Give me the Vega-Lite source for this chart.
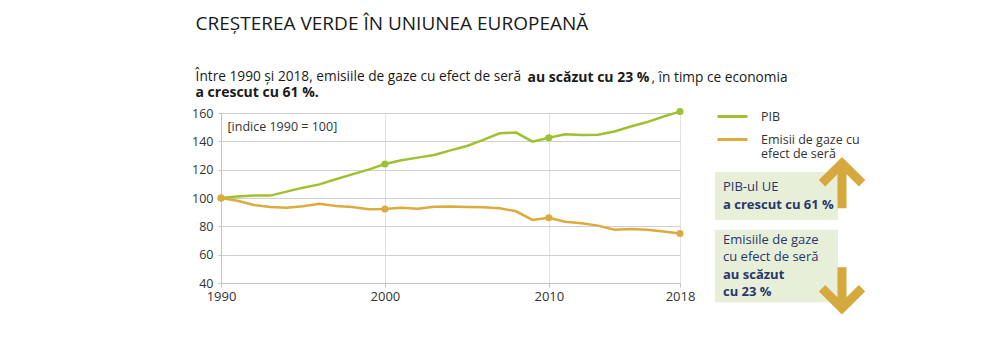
{
  "$schema": "https://vega.github.io/schema/vega-lite/v6.json",
  "background": "white",
  "padding": {"left": 191, "top": 14, "right": 5, "bottom": 5},
  "bounds": "flush",
  "spacing": 35,
  "title": {
    "text": "CREȘTEREA VERDE ÎN UNIUNEA EUROPEANĂ",
    "subtitle": "Între 1990 și 2018, emisiile de gaze cu efect de seră",
    "anchor": "start",
    "frame": "bounds",
    "dx": 4,
    "font": "Open Sans",
    "fontSize": 19,
    "fontWeight": "normal",
    "color": "#1a1a1a",
    "subtitleFont": "Open Sans",
    "subtitleFontSize": 13.7,
    "subtitleColor": "#1a1a1a",
    "subtitlePadding": 35.8,
    "offset": -13
  },
  "datasets": {
    "series": [
      {"year": 1990, "series": "PIB", "value": 100},
      {"year": 1991, "series": "PIB", "value": 101},
      {"year": 1992, "series": "PIB", "value": 101.7},
      {"year": 1993, "series": "PIB", "value": 101.7},
      {"year": 1994, "series": "PIB", "value": 104.5},
      {"year": 1995, "series": "PIB", "value": 107.3},
      {"year": 1996, "series": "PIB", "value": 109.6},
      {"year": 1997, "series": "PIB", "value": 113.2},
      {"year": 1998, "series": "PIB", "value": 116.7},
      {"year": 1999, "series": "PIB", "value": 120},
      {"year": 2000, "series": "PIB", "value": 124},
      {"year": 2001, "series": "PIB", "value": 126.6},
      {"year": 2002, "series": "PIB", "value": 128.5},
      {"year": 2003, "series": "PIB", "value": 130.4},
      {"year": 2004, "series": "PIB", "value": 133.6},
      {"year": 2005, "series": "PIB", "value": 136.7},
      {"year": 2006, "series": "PIB", "value": 141},
      {"year": 2007, "series": "PIB", "value": 145.7},
      {"year": 2008, "series": "PIB", "value": 146.2},
      {"year": 2009, "series": "PIB", "value": 139.8},
      {"year": 2010, "series": "PIB", "value": 142.5},
      {"year": 2011, "series": "PIB", "value": 145},
      {"year": 2012, "series": "PIB", "value": 144.5},
      {"year": 2013, "series": "PIB", "value": 144.6},
      {"year": 2014, "series": "PIB", "value": 147},
      {"year": 2015, "series": "PIB", "value": 150.5},
      {"year": 2016, "series": "PIB", "value": 153.6},
      {"year": 2017, "series": "PIB", "value": 157.5},
      {"year": 2018, "series": "PIB", "value": 161},
      {"year": 1990, "series": "Emisii de gaze cu efect de seră", "value": 100},
      {"year": 1991, "series": "Emisii de gaze cu efect de seră", "value": 98},
      {"year": 1992, "series": "Emisii de gaze cu efect de seră", "value": 95},
      {"year": 1993, "series": "Emisii de gaze cu efect de seră", "value": 93.6},
      {"year": 1994, "series": "Emisii de gaze cu efect de seră", "value": 93.2},
      {"year": 1995, "series": "Emisii de gaze cu efect de seră", "value": 94.1},
      {"year": 1996, "series": "Emisii de gaze cu efect de seră", "value": 96},
      {"year": 1997, "series": "Emisii de gaze cu efect de seră", "value": 94.4},
      {"year": 1998, "series": "Emisii de gaze cu efect de seră", "value": 93.6},
      {"year": 1999, "series": "Emisii de gaze cu efect de seră", "value": 92},
      {"year": 2000, "series": "Emisii de gaze cu efect de seră", "value": 92.2},
      {"year": 2001, "series": "Emisii de gaze cu efect de seră", "value": 93.2},
      {"year": 2002, "series": "Emisii de gaze cu efect de seră", "value": 92.5},
      {"year": 2003, "series": "Emisii de gaze cu efect de seră", "value": 93.8},
      {"year": 2004, "series": "Emisii de gaze cu efect de seră", "value": 94},
      {"year": 2005, "series": "Emisii de gaze cu efect de seră", "value": 93.6},
      {"year": 2006, "series": "Emisii de gaze cu efect de seră", "value": 93.4},
      {"year": 2007, "series": "Emisii de gaze cu efect de seră", "value": 92.7},
      {"year": 2008, "series": "Emisii de gaze cu efect de seră", "value": 90.6},
      {"year": 2009, "series": "Emisii de gaze cu efect de seră", "value": 84.5},
      {"year": 2010, "series": "Emisii de gaze cu efect de seră", "value": 86.1},
      {"year": 2011, "series": "Emisii de gaze cu efect de seră", "value": 83.3},
      {"year": 2012, "series": "Emisii de gaze cu efect de seră", "value": 82.1},
      {"year": 2013, "series": "Emisii de gaze cu efect de seră", "value": 80.5},
      {"year": 2014, "series": "Emisii de gaze cu efect de seră", "value": 77.6},
      {"year": 2015, "series": "Emisii de gaze cu efect de seră", "value": 78.1},
      {"year": 2016, "series": "Emisii de gaze cu efect de seră", "value": 77.6},
      {"year": 2017, "series": "Emisii de gaze cu efect de seră", "value": 76.3},
      {"year": 2018, "series": "Emisii de gaze cu efect de seră", "value": 75}
    ],
    "boxes": [
      {"box": "PIB", "line": "PIB-ul UE", "strong": false},
      {"box": "PIB", "line": "a crescut cu 61 %", "strong": true},
      {"box": "GES", "line": "Emisiile de gaze", "strong": false},
      {"box": "GES", "line": "cu efect de seră", "strong": false},
      {"box": "GES", "line": "au scăzut", "strong": true},
      {"box": "GES", "line": "cu 23 %", "strong": true}
    ],
    "arrows": [
      {"trend": "up", "line": "PIB-ul UE"},
      {"trend": "down", "line": "cu 23 %"}
    ]
  },
  "hconcat": [
    {
      "width": 459,
      "height": 170,
      "data": {"name": "series"},
      "layer": [
        {
          "mark": {"type": "line", "strokeWidth": 2.5},
          "encoding": {
            "x": {
              "field": "year", "type": "quantitative",
              "scale": {"domain": [1990, 2018], "nice": false, "zero": false},
              "axis": {
                "orient": "bottom", "values": [1990, 2000, 2010, 2018], "format": "d",
                "labelFlush": false,
                "grid": true, "gridColor": "#e2e2e2", "domainColor": "#c4c4c4",
                "tickColor": "#c4c4c4", "tickSize": 4, "labelFontSize": 13, "labelColor": "#333333",
                "labelPadding": 3,
                "title": "[indice 1990 = 100]", "titleFontWeight": "normal", "titleFontSize": 12.5,
                "titleColor": "#333333", "titleAnchor": "start", "titleAlign": "left",
                "titleBaseline": "middle", "titleX": 6, "titleY": -156.7
              }
            },
            "y": {
              "field": "value", "type": "quantitative",
              "scale": {"domain": [40, 160], "nice": false, "zero": false},
              "axis": {
                "orient": "left", "values": [40, 60, 80, 100, 120, 140, 160],
                "grid": true, "gridColor": "#cfcfcf", "domainColor": "#c4c4c4",
                "tickColor": "#c4c4c4", "tickSize": 3, "labelFontSize": 12.5, "labelColor": "#333333",
                "labelPadding": 5,
                "title": "a crescut cu 61 %.", "titleFontWeight": "bold", "titleFontSize": 14,
                "titleColor": "#1a1a1a", "titleAngle": 0, "titleAlign": "left",
                "titleBaseline": "alphabetic", "titleX": -26, "titleY": -16.5
              }
            },
            "color": {
              "field": "series", "type": "nominal",
              "scale": {"domain": ["PIB", "Emisii de gaze cu efect de seră"], "range": ["#9fc131", "#dcab3c"]},
              "legend": {
                "orient": "none", "legendX": 495, "legendY": -13, "title": null, "padding": 0,
                "symbolType": "stroke", "symbolSize": 900, "symbolStrokeWidth": 3,
                "labelFontSize": 12.5, "labelColor": "#333333", "labelOffset": 12, "rowPadding": 0,
                "labelExpr": "datum.label == 'Emisii de gaze cu efect de seră' ? ['Emisii de gaze cu', 'efect de seră'] : datum.label"
              }
            }
          }
        },
        {
          "transform": [{"filter": {"field": "year", "oneOf": [1990, 2000, 2010, 2018]}}],
          "mark": {"type": "point", "filled": true, "size": 50, "opacity": 1},
          "encoding": {
            "x": {
              "field": "year", "type": "quantitative",
              "axis": {
                "orient": "top", "labels": false, "ticks": false, "domain": false, "grid": false,
                "title": "au scăzut cu 23 %", "titleFontWeight": "bold", "titleFontSize": 14,
                "titleColor": "#1a1a1a", "titleAnchor": "start", "titleAlign": "left",
                "titleBaseline": "alphabetic", "titleX": 306, "titleY": -31.7
              }
            },
            "y": {
              "field": "value", "type": "quantitative",
              "axis": {
                "orient": "right", "labels": false, "ticks": false, "domain": false, "grid": false,
                "title": ", în timp ce economia", "titleFontWeight": "normal", "titleFontSize": 13.7,
                "titleColor": "#1a1a1a", "titleAngle": 0, "titleAlign": "left",
                "titleBaseline": "alphabetic", "titleX": -29, "titleY": -31.7
              }
            },
            "color": {"field": "series", "type": "nominal"}
          }
        }
      ],
      "resolve": {"axis": {"x": "independent", "y": "independent"}}
    },
    {
      "width": 123,
      "height": 188,
      "layer": [
        {
          "data": {"name": "boxes"},
          "transform": [{"filter": "datum.box == 'PIB'"}],
          "mark": {"type": "rect", "fill": "#e8efd9", "height": {"band": 1.75}},
          "encoding": {
            "y": {
              "field": "line", "type": "nominal",
              "scale": {
                "domain": [" ", "  ", "PIB-ul UE", "a crescut cu 61 %", "   ", "Emisiile de gaze", "cu efect de seră", "au scăzut", "cu 23 %"],
                "paddingInner": 0, "paddingOuter": 0.873, "align": 1
              },
              "axis": null
            }
          }
        },
        {
          "data": {"name": "boxes"},
          "transform": [{"filter": "datum.box == 'GES'"}],
          "mark": {"type": "rect", "fill": "#e8efd9", "height": {"band": 1.15}},
          "encoding": {"y": {"field": "line", "type": "nominal"}}
        },
        {
          "data": {"name": "boxes"},
          "transform": [{"filter": "!datum.strong"}],
          "mark": {"type": "text", "align": "left", "dx": -53.5, "fontSize": 13, "color": "#27366b", "font": "Open Sans"},
          "encoding": {"y": {"field": "line", "type": "nominal"}, "text": {"field": "line"}}
        },
        {
          "data": {"name": "boxes"},
          "transform": [{"filter": "datum.strong"}],
          "mark": {"type": "text", "align": "left", "dx": -53.5, "fontSize": 13, "fontWeight": "bold", "color": "#27366b", "font": "Open Sans"},
          "encoding": {"y": {"field": "line", "type": "nominal"}, "text": {"field": "line"}}
        },
        {
          "data": {"name": "arrows"},
          "mark": {"type": "point", "filled": false, "size": 2500, "strokeWidth": 9, "strokeCap": "butt", "strokeJoin": "miter", "color": "#d5a93d", "opacity": 1},
          "encoding": {
            "y": {"field": "line", "type": "nominal"},
            "shape": {
              "field": "trend", "type": "nominal",
              "scale": {
                "domain": ["up", "down"],
                "range": ["M1.82,-0.16L2.62,-0.96L3.42,-0.16M2.62,-0.96L2.62,0.84", "M1.82,-0.16L2.62,0.64L3.42,-0.16M2.62,0.64L2.62,-1.0"]
              },
              "legend": null
            }
          }
        }
      ]
    }
  ],
  "config": {
    "font": "Open Sans",
    "view": {"stroke": null},
    "axis": {"labelFont": "Open Sans", "titleFont": "Open Sans"},
    "legend": {"labelFont": "Open Sans"},
    "style": {"guide-label": {"lineHeight": 14}}
  }
}
